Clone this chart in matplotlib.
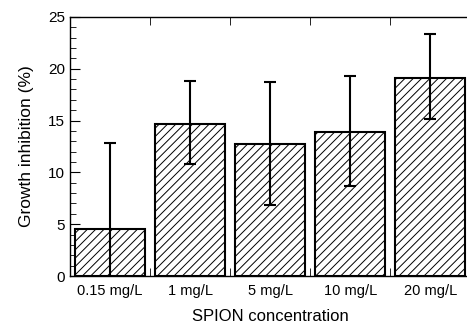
import numpy as np
import matplotlib.pyplot as plt
from matplotlib.ticker import MultipleLocator

plt.rcParams['font.family'] = ['Liberation Sans', 'DejaVu Sans']
plt.rcParams['hatch.linewidth'] = 0.7
plt.rcParams['hatch.color'] = '#666666'

# data
concentrations = ['0.15 mg/L', '1 mg/L', '5 mg/L', '10 mg/L', '20 mg/L']
inhibition = [4.5, 14.7, 12.7, 13.9, 19.1]
err_upper = [8.3, 4.1, 6.0, 5.4, 4.2]
err_lower = [8.3, 3.9, 5.8, 5.2, 4.0]

fig = plt.figure(figsize=(4.67, 3.24), dpi=100)
ax = fig.add_axes([0.15, 0.148, 0.857, 0.80])

x = np.arange(len(concentrations))
ax.bar(x, inhibition, width=0.88, color='white', edgecolor='black',
       linewidth=1.5, hatch='////', zorder=2)
ax.errorbar(x, inhibition, yerr=[err_lower, err_upper], fmt='none',
            ecolor='black', elinewidth=1.5, capsize=4, capthick=1.5, zorder=3)

ax.set_xlim(-0.5, len(concentrations) - 0.5)
ax.set_ylim(0, 25)

ax.set_xticks(x)
ax.set_xticklabels(concentrations, fontsize=10.5)
ax.set_xticks(np.arange(-0.5, len(concentrations)), minor=True)
ax.tick_params(axis='x', which='major', length=0, pad=6)
ax.tick_params(axis='x', which='minor', direction='in', length=6,
               top=True, bottom=True)

ax.yaxis.set_major_locator(MultipleLocator(5))
ax.yaxis.set_minor_locator(MultipleLocator(1))
ax.tick_params(axis='y', which='major', direction='in', length=7, labelsize=11)
ax.tick_params(axis='y', which='minor', direction='in', length=4)

for s in ax.spines.values():
    s.set_linewidth(1.0)
ax.spines['right'].set_visible(False)

ax.set_ylabel('Growth inhibition (%)', fontsize=12.5, labelpad=10)
ax.set_xlabel('SPION concentration', fontsize=12, labelpad=8)

fig.savefig('out.png', dpi=100)
